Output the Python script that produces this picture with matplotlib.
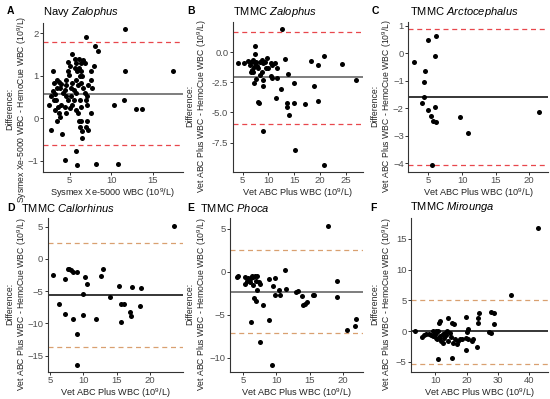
import numpy as np
import matplotlib
matplotlib.use("Agg")
import matplotlib.pyplot as plt

plt.rcParams['font.family'] = ['Liberation Sans', 'DejaVu Sans']
plt.rcParams['mathtext.fontset'] = 'custom'
plt.rcParams['mathtext.rm'] = 'Liberation Sans'
plt.rcParams['mathtext.it'] = 'Liberation Sans:italic'

# ---- data ----
a_x = [11.6, 6.9, 8.1, 8.4, 5.3, 7.9, 7.6, 11.6, 17.4, 3.0, 11.5, 10.3, 12.9, 13.7,
       2.8, 4.1, 5.7, 4.4, 5.9, 8.2, 10.8, 6.5,
       2.5, 2.8, 3.1, 3.0, 3.1, 3.2, 3.3,
       3.5, 3.7, 4.0, 3.5, 3.8, 3.4, 3.6, 3.7, 3.5, 3.9, 4.0, 4.2,
       4.4, 4.5, 4.6, 4.8, 4.8, 5.0, 4.9, 4.6, 4.8, 4.4, 4.6, 5.0, 5.2, 5.1, 5.3,
       5.6, 5.8, 5.6, 5.9, 5.7, 6.0, 5.5, 5.8, 5.3, 5.7, 6.0, 5.5,
       6.1, 6.3, 6.1, 6.4, 6.2, 6.4, 6.6, 6.2, 6.4, 6.1, 6.4, 6.2, 6.5, 6.8, 6.9, 7.1, 6.9,
       7.1, 7.1, 7.2, 7.6, 7.7, 7.6, 7.2, 6.8, 6.6, 6.5]
a_y = [2.09, 1.90, 1.70, 1.59, 1.51, 1.22, 1.10, 1.10, 1.10, 1.10, 0.43, 0.31, 0.22, 0.22,
       -0.28, -0.38, -0.78, -0.98, -1.10, -1.07, -1.07, -0.47,
       0.31, 0.51, 0.82, 0.63, 0.43, 0.20, 0.57,
       0.90, 0.86, 0.80, 0.70, 0.70, 0.43, 0.27, 0.12, -0.08, 0.02, 0.31, 0.59,
       0.66, 0.78, 0.90, 1.10, 1.31, 1.22, 1.02, 0.51, 0.43, 0.27, 0.12, 0.24, 0.51, 0.70, 0.82,
       1.40, 1.29, 1.18, 1.10, 0.90, 0.78, 0.66, 0.59, 0.31, 0.20, 0.12, 0.43,
       1.40, 1.29, 1.18, 1.10, 0.98, 0.82, 0.70, 0.43, 0.27, -0.08, -0.08, -0.20, -0.31, 0.59, 0.43, -0.08, -0.20,
       0.51, 0.31, -0.29, 0.90, 0.70, 0.12, 0.78, 1.29, 1.37, 0.98]

b_x = [12.7, 7.5, 7.4, 4.2, 5.3, 6.1, 6.6, 7.0, 6.4, 6.8, 6.7, 7.1, 7.2, 7.4, 7.7, 7.9,
       8.1, 8.4, 8.7, 9.0, 9.4, 9.8, 10.0, 9.5, 10.5, 10.8, 11.3, 11.6, 10.6, 10.8, 11.7,
       8.7, 8.4, 7.7, 7.2, 8.9, 9.0, 8.1, 8.2, 9.0, 11.4, 12.5, 13.2, 13.9, 13.6, 13.6,
       14.0, 15.0, 15.0, 15.2, 17.2, 18.3, 18.9, 19.7, 20.8, 19.6, 20.8, 24.2, 27.0]
b_y = [1.92, 0.55, -0.14, -0.86, -0.92, -0.69, -0.78, -0.64, -1.06, -1.47, -1.61, -1.61,
       -1.19, -0.92, -0.78, -1.11, -1.33, -0.78, -0.64, -0.92, -0.78, -0.50, -1.33, -1.33,
       -0.86, -1.06, -0.92, -1.33, -1.97, -2.11, -2.17, -1.61, -1.89, -2.25, -2.58, -2.31,
       -2.78, -4.11, -4.25, -6.53, -3.78, -3.08, -0.58, -1.81, -4.19, -4.58, -5.22, -2.58,
       -4.19, -8.10, -4.31, -0.69, -2.81, -1.06, -0.28, -4.06, -9.39, -0.97, -2.31]

c_x = [2.85, 4.9, 6.1, 5.9, 4.5, 4.4, 4.3, 4.0, 5.0, 5.9, 5.4, 5.65, 6.1, 9.75, 10.9, 21.5, 5.5]
c_y = [-0.33, 0.49, 0.63, -0.10, -0.63, -1.03, -1.60, -1.80, -2.06, -1.94, -2.27, -2.46,
       -2.50, -2.31, -2.91, -2.14, -4.05]

d_x = [23.6, 5.5, 7.3, 7.7, 7.9, 8.2, 8.5, 9.0, 10.2, 10.5, 9.9, 12.6, 13.0, 6.4, 7.2,
       8.5, 10.0, 11.9, 9.0, 9.0, 14.0, 15.4, 15.6, 16.2, 15.7, 17.3, 17.0, 17.2, 18.7, 18.6]
d_y = [5.04, -2.49, -3.10, -1.60, -1.56, -1.77, -1.97, -2.08, -2.80, -3.95, -5.50, -2.65,
       -1.56, -7.06, -8.57, -9.35, -8.73, -9.35, -11.74, -16.50, -5.87, -4.16, -7.00, -7.00,
       -9.77, -4.36, -8.30, -8.88, -4.47, -7.27]

e_x = [17.8, 11.3, 4.0, 4.2, 5.2, 5.2, 5.5, 5.75, 6.1, 6.3, 6.5, 6.8, 7.0, 6.0, 6.4, 6.9,
       7.3, 7.5, 7.0, 6.6, 6.9, 7.9, 6.2, 7.5, 8.9, 9.8, 9.5, 9.8, 8.9, 9.3, 10.4, 10.6,
       11.4, 13.0, 13.3, 13.8, 14.0, 14.3, 14.6, 15.5, 15.7, 19.1, 19.2, 20.6, 21.9, 22.0]
e_y = [5.30, 0.20, -0.59, -0.47, -0.59, -1.37, -1.10, -0.70, -0.78, -0.47, -0.59, -0.47,
       -0.55, -1.25, -1.57, -1.10, -1.25, -1.37, -2.16, -3.06, -3.37, -3.92, -5.88, -8.20,
       -0.90, -0.78, -1.65, -2.67, -5.57, -10.90, -2.16, -2.75, -2.04, -2.35, -2.24, -2.82,
       -3.92, -3.73, -3.53, -2.75, -2.67, -2.94, -1.10, -6.75, -6.27, -5.49]

f_x = [43.0, 34.1, 3.5, 5.8, 6.5, 7.1, 8.0, 8.7, 9.2, 9.8, 10.1, 10.3, 10.5, 10.9, 11.2,
       11.6, 11.4, 11.9, 12.3, 12.5, 12.8, 13.3, 13.6, 13.9, 14.1, 14.6, 14.9, 15.2, 15.9,
       15.5, 16.3, 16.8, 17.3, 17.9, 18.4, 19.8, 20.0, 20.4, 19.8, 20.6, 19.8, 21.7, 22.2,
       23.3, 23.6, 23.8, 24.1, 27.3, 27.8, 27.8, 28.7, 28.9, 10.9, 15.4, 11.2, 13.0, 9.2, 10.1]
f_y = [16.8, 5.9, 0.0, -0.97, -0.70, -0.54, -0.54, -0.70, -0.81, -0.54, -1.08, -0.27,
       -1.35, 0.0, 1.35, 1.62, -0.81, -1.62, -0.54, -2.00, -1.08, -0.70, 0.0, -1.62, 2.16,
       -0.27, -0.92, 1.35, 1.08, -1.89, -1.35, -2.16, -1.62, -1.24, -1.35, 2.32, -0.16, 0.27,
       -1.08, -1.35, -3.14, -1.62, -1.35, -2.54, 1.24, 2.16, 2.97, -0.16, -0.27, 3.08, 3.00,
       1.19, -4.49, -4.32, -1.19, -0.27, 0.0, 0.0]

# bias and limits of agreement
means = [0.56, -2.08, -1.60, -5.61, -2.35, 0.0]
upper = [1.78, 1.72, 0.87, 2.44, 2.55, 5.1]
lower = [-0.63, -5.97, -4.07, -13.66, -7.18, -5.4]

letters = ['A', 'B', 'C', 'D', 'E', 'F']
titles = ['Navy $\\mathit{Zalophus}$', 'TMMC $\\mathit{Zalophus}$', 'TMMC $\\mathit{Arctocephalus}$',
          'TMMC $\\mathit{Callorhinus}$', 'TMMC $\\mathit{Phoca}$', 'TMMC $\\mathit{Mirounga}$']
xlabels = ['Sysmex Xe-5000 WBC (10$^9$/L)'] + ['Vet ABC Plus WBC (10$^9$/L)'] * 5
ylabels = ['Difference:\nSysmex Xe-5000 WBC - HemoCue WBC (10$^9$/L)'] + \
          ['Difference:\nVet ABC Plus WBC - HemoCue WBC (10$^9$/L)'] * 5
xticks = [[5, 10, 15], [5, 10, 15, 20, 25], [5, 10, 15, 20], [5, 10, 15, 20],
          [5, 10, 15, 20], [10, 20, 30, 40]]
yticks = [[-1, 0, 1, 2], [-7.5, -5.0, -2.5, 0.0], [-4, -3, -2, -1, 0, 1],
          [-15, -10, -5, 0, 5], [-10, -5, 0, 5], [-5, 0, 5, 10, 15]]
ytick_labels = [None, ['-7.5', '-5.0', '-2.5', '0.0'], None, None, None, None]
xlims = [(1.8, 18.6), (3.1, 28.3), (2.0, 22.75), (4.65, 25.0), (3.0, 23.0), (2.2, 46.0)]
ylims = [(-1.27, 2.25), (-9.94, 2.47), (-4.31, 1.12), (-17.56, 6.34), (-11.69, 6.27), (-6.65, 18.4)]

xs = [a_x, b_x, c_x, d_x, e_x, f_x]
ys = [a_y, b_y, c_y, d_y, e_y, f_y]
mean_colors = ['#5a5a5a', '#5a5a5a', 'black', 'black', '#5a5a5a', 'black']
loa_colors = ['#e8474c'] * 3 + ['#d9a070'] * 3

# axes boxes in pixels (left, right, top, bottom)
boxes = [(43, 183, 22.5, 172), (232.7, 362.7, 22.5, 172), (408.3, 547.7, 22.5, 172),
         (47.7, 183, 218, 372), (230, 362.7, 218, 372), (411, 547.7, 218, 372)]
# panel letters and title starts, pixels
letter_pos = [(7, 11), (187, 11), (372, 11), (7, 208), (187, 208), (370, 208)]
title_x = [43, 233, 410, 21, 200, 410]
# distance from spine to the centre of the y label block, and how far below middle
ylab_off = [26, 36, 26.5, 31, 33.3, 29.3]
ylab_drop = [12, 9, 9, 9, 9, 9]

W, H = 550, 399
fig = plt.figure(figsize=(W / 100, H / 100), dpi=100)

for i in range(6):
    l, r, t, b = boxes[i]
    ax = fig.add_axes([l / W, 1 - b / H, (r - l) / W, (b - t) / H])
    ax.axhline(means[i], color=mean_colors[i], lw=1.1, zorder=1)
    ax.axhline(upper[i], color=loa_colors[i], lw=0.9, ls=(0, (4, 3)), zorder=1)
    ax.axhline(lower[i], color=loa_colors[i], lw=0.9, ls=(0, (4, 3)), zorder=1)
    ax.scatter(xs[i], ys[i], s=13, color='black', linewidths=0, zorder=3)
    ax.set_xlim(*xlims[i])
    ax.set_ylim(*ylims[i])
    ax.set_xticks(xticks[i])
    ax.set_yticks(yticks[i])
    if ytick_labels[i] is not None:
        ax.set_yticklabels(ytick_labels[i])
    for s in ['top', 'right']:
        ax.spines[s].set_visible(False)
    for s in ['left', 'bottom']:
        ax.spines[s].set_linewidth(0.8)
        ax.spines[s].set_color('#333333')
    ax.tick_params(labelsize=6.8, length=2.2, width=0.7, pad=1,
                   colors='#333333', labelcolor='#4d4d4d')
    ax.set_xlabel(xlabels[i], fontsize=6.6, labelpad=0.5, color='#222222')
    ax.set_ylabel(ylabels[i], fontsize=6.2, color='#222222', linespacing=1.1,
                  va='center')
    ax.yaxis.set_label_coords(-ylab_off[i] / (r - l), 0.5 - ylab_drop[i] / (b - t))
    # title, left aligned at given pixel
    fig.text(title_x[i] / W, 1 - (t - 10.5) / H, titles[i], fontsize=8,
             ha='left', va='center')
    fig.text(letter_pos[i][0] / W, 1 - letter_pos[i][1] / H, letters[i], fontsize=7.5,
             fontweight='bold', ha='left', va='center')

fig.savefig('out.png', dpi=100)
